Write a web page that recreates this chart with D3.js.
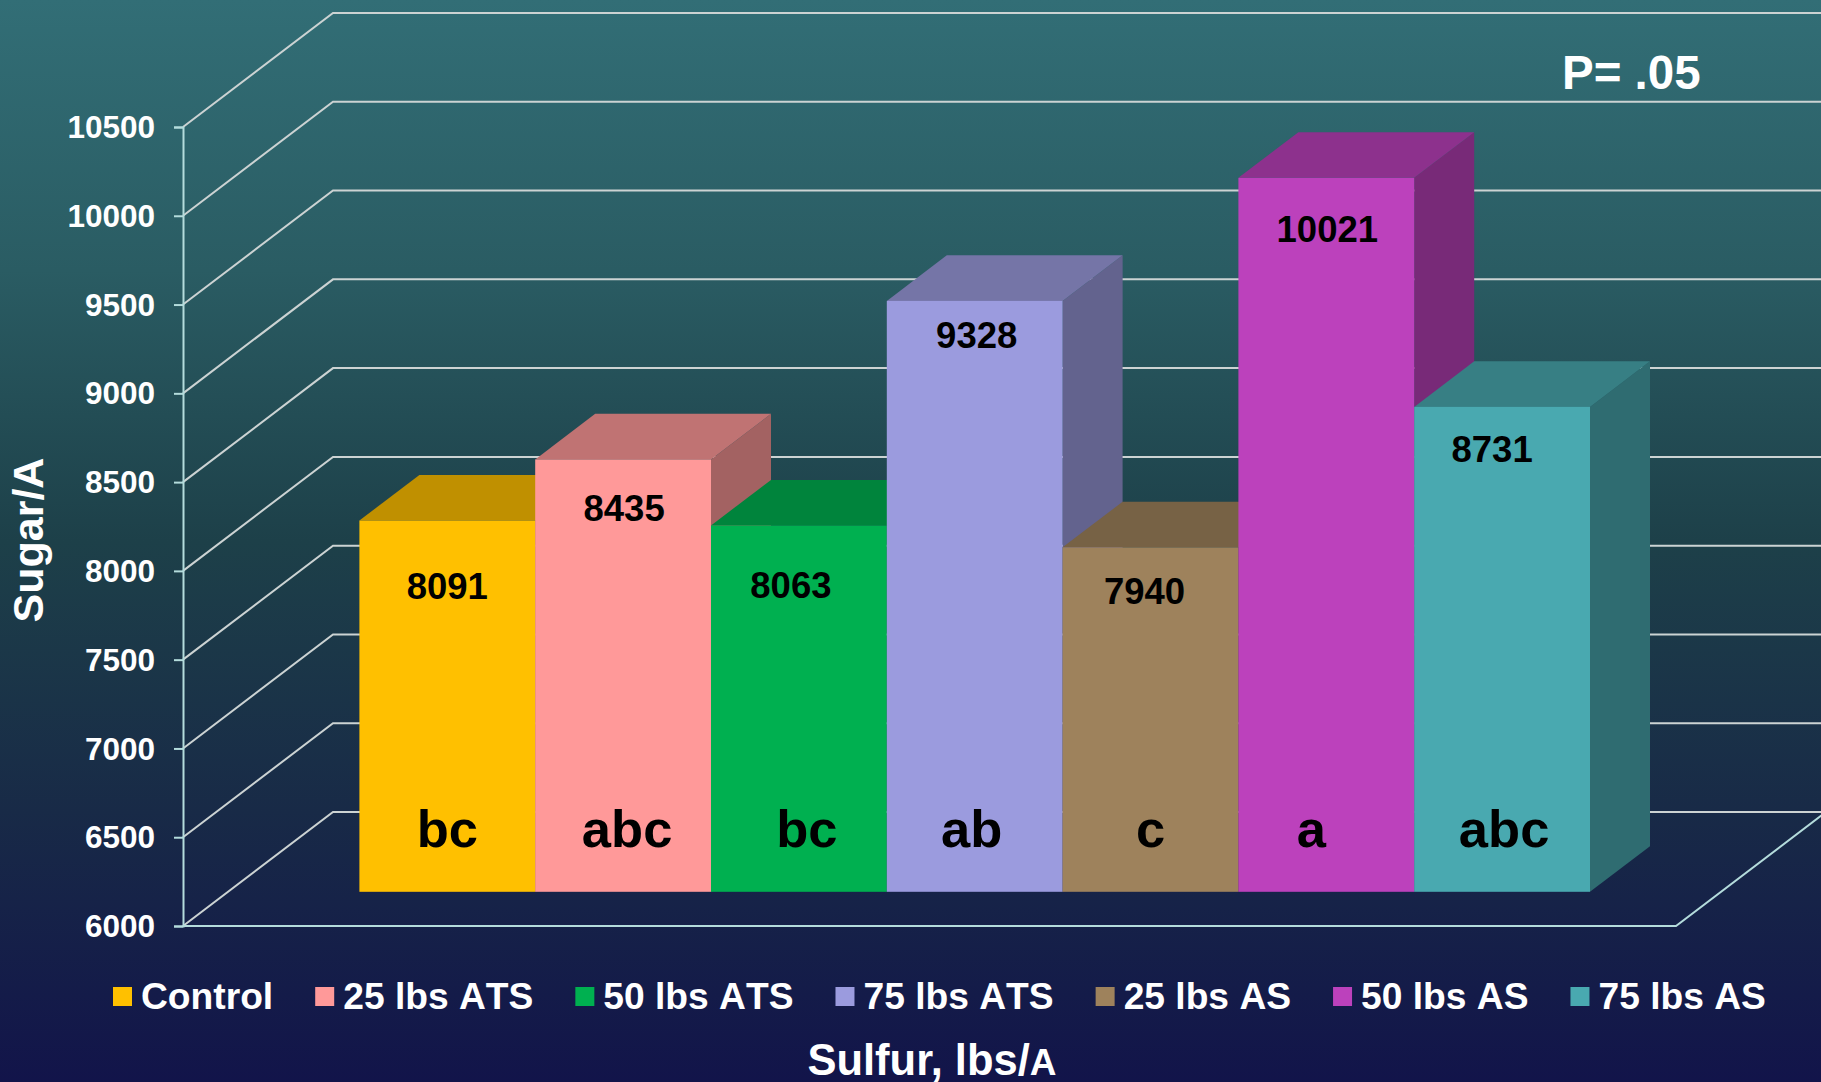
<!DOCTYPE html>
<html>
<head>
<meta charset="utf-8">
<script src="https://cdn.jsdelivr.net/npm/d3@7"></script>
<style>
    html, body { margin: 0; padding: 0; background: #12154a; overflow: hidden; }
    text { font-family: "Liberation Sans", Arial, sans-serif; font-weight: bold; }
</style>
</head>
<body>
<div id="chart"></div>
<script>
const categories = ["Control", "25 lbs ATS", "50 lbs ATS", "75 lbs ATS", "25 lbs AS", "50 lbs AS", "75 lbs AS"];
const sugarValues = [8091, 8435, 8063, 9328, 7940, 10021, 8731];
const sigLetters = ["bc", "abc", "bc", "ab", "c", "a", "abc"];
const yTicks = [6000, 6500, 7000, 7500, 8000, 8500, 9000, 9500, 10000, 10500];
const barColors = ["#FFC000", "#FF9999", "#00B050", "#9B9BDE", "#9E825C", "#BC41BC", "#49A9B0"];

// labels were placed by hand in the original, so these are offsets from the bar
const valueLabelDx = [0, 1, -8, 2, -6, 1, -10];
const valueLabelDy = [66, 49, 60, 34, 44, 51, 42];
const letterDx = [0, 4, 8, -3, 0, -15, 2];

const width = 1821;
const height = 1082;

// depth of the wall/floor, and where the bars sit within it
const wallDx = 150;
const wallDy = 114;
const barStart = 0.3;
const barDepth = 0.4;
const axisX = 183;
const floorRight = 1676;

const svg = d3.select("#chart").append("svg")
    .attr("width", width)
    .attr("height", height)
    .style("display", "block");

const gradient = svg.append("defs").append("linearGradient")
    .attr("id", "bg")
    .attr("x1", 0).attr("y1", 0).attr("x2", 0).attr("y2", 1);
[[0, "#326e76"], [0.25, "#2a5c63"], [0.5, "#1d4049"], [0.75, "#182a47"], [1, "#12144a"]].forEach(s => {
    gradient.append("stop").attr("offset", s[0]).attr("stop-color", s[1]);
});

svg.append("rect")
    .attr("width", width)
    .attr("height", height)
    .attr("fill", "url(#bg)");

const y = d3.scaleLinear()
    .domain([6000, 10500])
    .range([926, 127]);

const x = d3.scaleBand()
    .domain(categories)
    .range([359.4, 1590]);

// GRID

const gridColor = "#ccd3d3";
const axisColor = "#b4dcdc";

svg.append("g")
    .selectAll("path")
    .data(yTicks)
    .join("path")
    .attr("fill", "none")
    .attr("stroke", gridColor)
    .attr("stroke-width", 2)
    .attr("d", d => {
        const p = d3.path();
        p.moveTo(axisX, y(d));
        p.lineTo(axisX + wallDx, y(d) - wallDy);
        p.lineTo(width, y(d) - wallDy);
        return p.toString();
    });

// floor front edge runs off the right side of the picture
const floor = d3.path();
floor.moveTo(axisX, y(6000));
floor.lineTo(floorRight, y(6000));
floor.lineTo(floorRight + wallDx, y(6000) - wallDy);
svg.append("path")
    .attr("d", floor.toString())
    .attr("fill", "none")
    .attr("stroke", axisColor)
    .attr("stroke-width", 2);

const yAxis = svg.append("g")
    .attr("transform", "translate(" + axisX + " 0)")
    .call(d3.axisLeft(y).tickValues(yTicks).tickFormat(d3.format("d")).tickSize(9).tickPadding(19));

yAxis.selectAll("path, line")
    .attr("stroke", axisColor)
    .attr("stroke-width", 2);
yAxis.selectAll("text")
    .attr("fill", "#fff")
    .attr("font-size", 31.5)
    .attr("transform", "translate(0 0.5)")
    .attr("font-family", "Liberation Sans")
    .attr("font-weight", "bold");

// BARS

const offX = barStart * wallDx;
const offY = barStart * wallDy;
const depthX = barDepth * wallDx;
const depthY = barDepth * wallDy;
const baseY = y(6000) - offY;

const bars = svg.append("g")
    .selectAll("g")
    .data(categories)
    .join("g");

bars.append("path")
    .attr("fill", (d, i) => d3.rgb(barColors[i]).darker(1.25))
    .attr("d", (d, i) => {
        const right = x(d) + x.bandwidth();
        const top = y(sugarValues[i]) - offY;
        return d3.line()([[right, top], [right + depthX, top - depthY], [right + depthX, baseY - depthY], [right, baseY]]) + "Z";
    });

bars.append("path")
    .attr("fill", (d, i) => d3.rgb(barColors[i]).darker(0.8))
    .attr("d", (d, i) => {
        const top = y(sugarValues[i]) - offY;
        return d3.line()([[x(d), top], [x(d) + depthX, top - depthY], [x(d) + x.bandwidth() + depthX, top - depthY], [x(d) + x.bandwidth(), top]]) + "Z";
    });

bars.append("rect")
    .attr("x", d => x(d))
    .attr("y", (d, i) => y(sugarValues[i]) - offY)
    .attr("width", x.bandwidth())
    .attr("height", (d, i) => baseY - y(sugarValues[i]) + offY)
    .attr("fill", (d, i) => barColors[i]);

// text goes on top of all bars
const labels = svg.append("g")
    .selectAll("g")
    .data(categories)
    .join("g")
    .attr("text-anchor", "middle")
    .attr("fill", "#000");

labels.append("text")
    .attr("x", (d, i) => x(d) + x.bandwidth() / 2 + valueLabelDx[i])
    .attr("y", (d, i) => y(sugarValues[i]) - offY + valueLabelDy[i])
    .attr("dy", "0.35em")
    .attr("font-size", 36.5)
    .text((d, i) => sugarValues[i]);

labels.append("text")
    .attr("x", (d, i) => x(d) + x.bandwidth() / 2 + letterDx[i])
    .attr("y", 847)
    .attr("font-size", 52.5)
    .text((d, i) => sigLetters[i]);

// LEGEND

const legendFont = 37.2;
const swatch = 19;
let legendX = 113;

categories.forEach((c, i) => {
    const item = svg.append("g").attr("transform", "translate(" + legendX + " 0)");
    item.append("rect")
        .attr("y", 987)
        .attr("width", swatch)
        .attr("height", swatch)
        .attr("fill", barColors[i]);
    const label = item.append("text")
        .attr("x", swatch + 9)
        .attr("y", 1009)
        .attr("font-size", legendFont)
        .attr("fill", "#fff")
        .style("font-kerning", "none")
        .text(c);
    legendX += swatch + 9 + label.node().getComputedTextLength() + 42;
});

// TITLES

svg.append("text")
    .attr("transform", "translate(43 540) rotate(-90)")
    .attr("text-anchor", "middle")
    .attr("font-size", 43)
    .attr("fill", "#fff")
    .text("Sugar/A");

const xTitle = svg.append("text")
    .attr("x", 932)
    .attr("y", 1075)
    .attr("text-anchor", "middle")
    .attr("font-size", 43.5)
    .attr("fill", "#fff");
xTitle.append("tspan").text("Sulfur, lbs/");
xTitle.append("tspan").attr("font-size", 37).text("A");

svg.append("text")
    .attr("x", 1562)
    .attr("y", 89)
    .attr("font-size", 47.5)
    .attr("fill", "#fff")
    .text("P= .05");
</script>
</body>
</html>
